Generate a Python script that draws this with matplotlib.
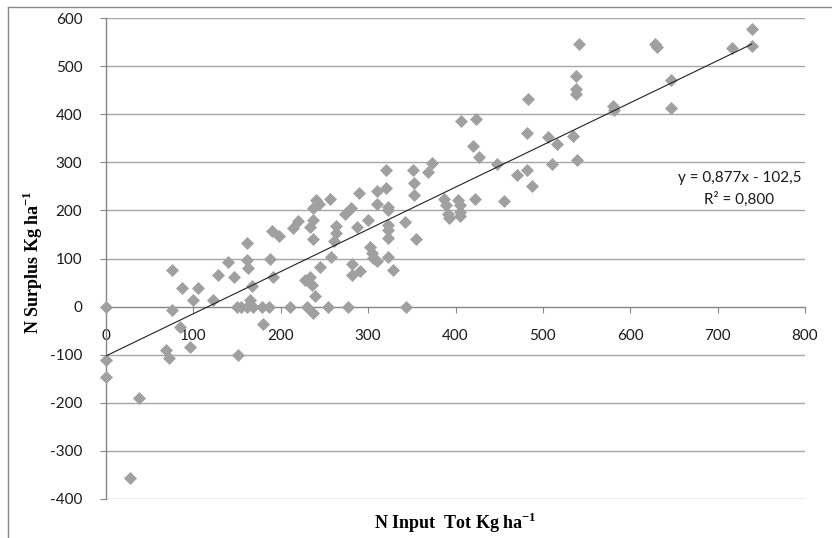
import matplotlib
matplotlib.use("Agg")
import matplotlib.pyplot as plt
from matplotlib.lines import Line2D
import numpy as np

# ---- data ----
n_input = [0, 0, 0, 27, 38, 69, 72, 75, 75, 85, 87, 96, 99, 105, 123, 128, 140, 147, 151,
           150, 155, 161, 168, 178, 187, 161, 163, 161, 165, 167, 180, 188, 191, 190, 198,
           211, 214, 220, 230, 228, 233, 234, 236, 237, 237, 237, 237, 239, 240, 244, 245,
           254, 256, 258, 261, 263, 263, 274, 277, 280, 281, 282, 287, 289, 291, 300, 302,
           304, 306, 310, 310, 310, 320, 321, 323, 323, 323, 323, 323, 323, 329, 342, 343,
           351, 353, 353, 355, 369, 373, 387, 389, 391, 392, 403, 405, 405, 405, 406, 420,
           422, 424, 427, 447, 455, 470, 482, 482, 483, 487, 506, 511, 516, 534, 538, 538,
           538, 539, 541, 580, 581, 628, 631, 647, 647, 716, 739, 739]
n_surplus = [0, -111, -147, -356, -190, -90, -107, 76, -8, -42, 38, -84, 14, 38, 14, 66, 92, 61, -100,
             0, 0, 0, 0, 0, 0, 97, 80, 132, 14, 42, -36, 99, 62, 157, 146,
             0, 163, 177, 0, 55, 166, 62, 45, 180, 204, 140, -14, 21, 222, 214, 83,
             0, 223, 104, 136, 168, 154, 192, 0, 204, 66, 88, 166, 237, 74, 180, 123,
             112, 101, 94, 241, 213, 284, 246, 208, 201, 170, 160, 142, 104, 77, 175, 0,
             284, 258, 232, 140, 279, 298, 223, 212, 192, 184, 221, 211, 197, 188, 385, 334,
             223, 390, 312, 297, 220, 273, 360, 284, 431, 251, 353, 297, 338, 355, 480, 452,
             441, 305, 545, 417, 409, 545, 540, 471, 412, 537, 578, 541]

slope = 0.877
intercept = -102.5
x_ticks = [0, 100, 200, 300, 400, 500, 600, 700, 800]
y_ticks = [-400, -300, -200, -100, 0, 100, 200, 300, 400, 500, 600]
eq_text = "y = 0,877x - 102,5"
r2_text = "R² = 0,800"
xlabel = r"N Input  Tot Kg ha$^{\mathbf{-1}}$"
ylabel = r"N Surplus Kg ha$^{\mathbf{-1}}$"

plt.rcParams['mathtext.fontset'] = 'custom'
plt.rcParams['mathtext.rm'] = 'Liberation Serif'
plt.rcParams['mathtext.bf'] = 'Liberation Serif:bold'

W, H = 832, 538
fig = plt.figure(figsize=(W / 100, H / 100), dpi=100)
L, R, T, B = 106, 805, 18, 499
ax = fig.add_axes([L / W, 1 - B / H, (R - L) / W, (B - T) / H])

ax.set_xlim(0, 800)
ax.set_ylim(-400, 600)

grid_c = '#a6a6a6'
axis_c = '#868686'
for yv in y_ticks:
    if yv != 0:
        ax.axhline(yv, color=grid_c, lw=1.0, zorder=0)

ax.scatter(n_input, n_surplus, marker='D', s=44, color='#a0a0a0', linewidths=0,
           zorder=3, clip_on=False)

xs = np.array([0, max(n_input)])
ax.plot(xs, slope * xs + intercept, color='#202020', lw=0.8, zorder=4)

for s in ['top', 'right']:
    ax.spines[s].set_visible(False)
ax.spines['left'].set_color(axis_c)
ax.spines['bottom'].set_color(axis_c)
ax.spines['bottom'].set_position(('data', 0))
ax.spines['left'].set_linewidth(1.0)
ax.spines['bottom'].set_linewidth(1.0)

ax.set_xticks(x_ticks)
ax.set_yticks(y_ticks)
ax.set_xticklabels([str(v) for v in x_ticks])
ax.set_yticklabels([str(v) for v in y_ticks])
ax.tick_params(axis='x', direction='out', length=4, color=axis_c, pad=12,
               labelsize=11, labelcolor='#1a1a1a')
ax.tick_params(axis='y', direction='out', length=4, color=axis_c, pad=13,
               labelsize=11, labelcolor='#1a1a1a')
for lab in ax.get_xticklabels() + ax.get_yticklabels():
    lab.set_fontfamily('Lato')

ax.text(725, 267, eq_text, fontsize=11, family='Lato', ha='center', va='center', color='#1a1a1a')
ax.text(725, 224, r2_text, fontsize=11, family='Lato', ha='center', va='center', color='#1a1a1a')

fig.text(455 / W, 1 - 523 / H, xlabel, ha='center', va='center', fontsize=13,
         family='Liberation Serif', weight='bold')
fig.text(33 / W, 1 - 262 / H, ylabel, ha='center', va='center', fontsize=13,
         family='Liberation Serif', weight='bold', rotation=90)

# outer chart border
fig.add_artist(Line2D([8 / W, 8 / W], [0, 1 - 7 / H], transform=fig.transFigure, color='#888888', lw=1))
fig.add_artist(Line2D([8 / W, 1], [1 - 7 / H, 1 - 7 / H], transform=fig.transFigure, color='#888888', lw=1))

fig.savefig('out.png', dpi=100)
